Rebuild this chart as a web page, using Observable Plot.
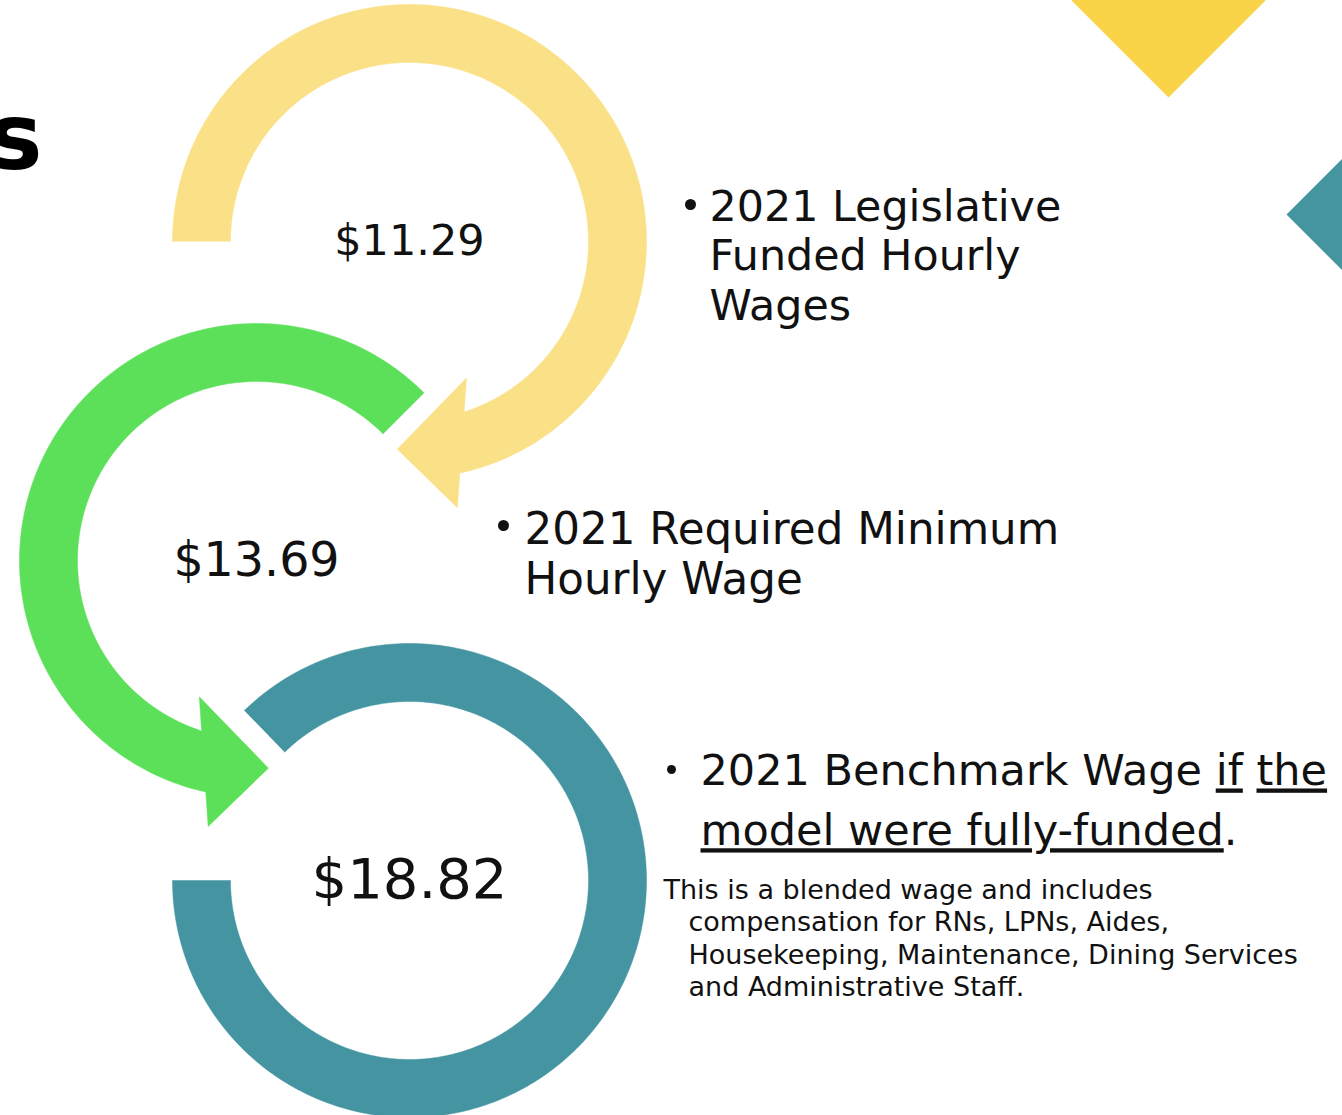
<!DOCTYPE html>
<html>
<head>
<meta charset="utf-8">
<script src="https://cdn.jsdelivr.net/npm/d3@7"></script>
<script src="https://cdn.jsdelivr.net/npm/@observablehq/plot@0.6"></script>
<style>
  html, body { margin: 0; padding: 0; background: #ffffff; }
  svg { display: block; }
</style>
</head>
<body>
<div id="chart"></div>
<script>
// ---------------- DATA ----------------
const wageValues = [11.29, 13.69, 18.82];
const wageLabels = ["$11.29", "$13.69", "$18.82"];
const wageDescriptions = [
  "2021 Legislative\nFunded Hourly\nWages",
  "2021 Required Minimum\nHourly Wage",
  "2021 Benchmark Wage if the\nmodel were fully-funded."
];
const underlinedPhrases = ["if", "the", "model were fully-funded"];
const noteLines = [
  "This is a blended wage and includes",
  "compensation for RNs, LPNs, Aides,",
  "Housekeeping, Maintenance, Dining Services",
  "and Administrative Staff."
];
const ringColors = ["#FAE187", "#5CE059", "#4495A1"];
const accentColors = ["#F9D449", "#4595A1"];
const titleFragment = "s";

// ---------------- LAYOUT ----------------
const W = 1342, H = 1115;
const R_OUT = 237, R_IN = 179;
const FONT = "'DejaVu Sans', sans-serif";
const rings = [
  {cx: 409, cy: 241, start: 180, end: 435.4, dir: 1, arrow: true, labelSize: 43},
  {cx: 256, cy: 560, start: 315, end: 104.7, dir: -1, arrow: true, labelSize: 47.5},
  {cx: 409, cy: 880, start: 225.8, end: 540, dir: 1, arrow: false, labelSize: 56}
];
const descLayout = [
  {x: 709, baseline: 220, lh: 1.16, size: 42.8, bx: 690, by: 204, br: 5.5},
  {x: 524, baseline: 543, lh: 1.16, size: 43.6, bx: 503, by: 525, br: 5.5},
  {x: 700, baseline: 785, lh: 1.39, size: 43, bx: 671, by: 769, br: 4.5}
];
const NOTE = {x0: 663, x1: 688, baseline: 898, size: 27, step: 32.6};

// ---------------- GEOMETRY HELPERS ----------------
const rad = d => d * Math.PI / 180;
function ringPolygon(r) {
  const pt = (a, rr) => [r.cx + rr * Math.cos(rad(a)), r.cy + rr * Math.sin(rad(a))];
  const arc = (a0, a1, rr) => {
    const n = Math.max(2, Math.ceil(Math.abs(a1 - a0) / 1));
    return d3.range(n + 1).map(i => pt(a0 + (a1 - a0) * i / n, rr));
  };
  if (!r.arrow) {
    return [...arc(r.start, r.end, R_OUT), ...arc(r.end, r.start, R_IN)];
  }
  const th = r.end, rm = (R_OUT + R_IN) / 2;
  const M = pt(th, rm);
  const bAng = th + r.dir * 18.6;         // arrow base direction
  const tAng = th + r.dir * 99;           // arrow pointing direction
  const b = [Math.cos(rad(bAng)), Math.sin(rad(bAng))];
  const t = [Math.cos(rad(tAng)), Math.sin(rad(tAng))];
  const hit = rr => {
    const p = [M[0] - r.cx, M[1] - r.cy];
    const pb = p[0] * b[0] + p[1] * b[1];
    const c = p[0] * p[0] + p[1] * p[1] - rr * rr;
    const s = Math.sqrt(Math.max(0, pb * pb - c));
    const u1 = -pb + s, u2 = -pb - s;
    const u = Math.abs(u1) < Math.abs(u2) ? u1 : u2;
    return [M[0] + u * b[0], M[1] + u * b[1]];
  };
  const unwrap = a => a + 360 * Math.round((th - a) / 360);
  const No = hit(R_OUT), Ni = hit(R_IN);
  const aO = unwrap(Math.atan2(No[1] - r.cy, No[0] - r.cx) * 180 / Math.PI);
  const aI = unwrap(Math.atan2(Ni[1] - r.cy, Ni[0] - r.cx) * 180 / Math.PI);
  const H2 = 65, L = 65;
  const outerBarb = [M[0] + b[0] * H2, M[1] + b[1] * H2];
  const innerBarb = [M[0] - b[0] * H2, M[1] - b[1] * H2];
  const tip = [M[0] + t[0] * L, M[1] + t[1] * L];
  return [...arc(r.start, aO, R_OUT), outerBarb, tip, innerBarb, ...arc(aI, r.start, R_IN)];
}
function diamond(cx, cy, h) {
  return [[cx - h, cy], [cx, cy - h], [cx + h, cy], [cx, cy + h], [cx - h, cy]];
}

// ---------------- MARKS ----------------
const ringMarks = rings.map((r, i) =>
  Plot.line(ringPolygon(r), {fill: ringColors[i], stroke: ringColors[i], strokeWidth: 0.5, curve: "linear"})
);
const accentMarks = [
  Plot.line(diamond(1168, 0, 97), {fill: accentColors[0], stroke: "none"}),
  Plot.line(diamond(1342, 214, 56), {fill: accentColors[1], stroke: "none"})
];

const labelRows = wageValues.map((v, i) => ({value: v, label: wageLabels[i], x: rings[i].cx, y: rings[i].cy, size: rings[i].labelSize}));
const descRows = wageDescriptions.map((d, i) => {
  const L = descLayout[i];
  return {text: d, x: L.x, y: L.baseline - 0.71 * L.lh * L.size, lh: L.lh, size: L.size, bx: L.bx, by: L.by, br: L.br};
});
const noteRows = noteLines.map((t, i) => ({text: t, x: i === 0 ? NOTE.x0 : NOTE.x1, y: NOTE.baseline + i * NOTE.step}));

const plot = Plot.plot({
  width: W,
  height: H,
  margin: 0,
  x: {domain: [0, W], range: [0, W], axis: null},
  y: {domain: [0, H], range: [0, H], axis: null},
  r: {type: "identity"},
  style: {background: "#ffffff", fontFamily: FONT},
  marks: [
    ...accentMarks,
    ...ringMarks,
    Plot.text(labelRows, {x: "x", y: "y", text: "label", fontSize: d => d.size, fill: "#111111", textAnchor: "middle", lineAnchor: "middle", fontFamily: FONT}),
    ...descRows.map(d => Plot.text([d], {x: "x", y: "y", text: "text", fontSize: d.size, lineHeight: d.lh, lineAnchor: "top", textAnchor: "start", fill: "#111111", fontFamily: FONT})),
    Plot.dot(descRows, {x: "bx", y: "by", r: "br", fill: "#111111", stroke: "none"}),
    Plot.text(noteRows, {x: "x", y: "y", text: "text", fontSize: NOTE.size, lineAnchor: "bottom", textAnchor: "start", fill: "#111111", fontFamily: FONT}),
    Plot.text([titleFragment], {x: () => 42, y: () => 168, text: d => d, fontSize: 92, fontWeight: 900, lineAnchor: "bottom", textAnchor: "end", fill: "#000000", fontFamily: "'DejaVu Sans', sans-serif"})
  ]
});
document.getElementById("chart").appendChild(plot);

// underline selected phrases in the benchmark description
const esc = s => s.replace(/[.*+?^${}()|[\]\\]/g, "\\$&");
const re = new RegExp("(" + underlinedPhrases.slice().sort((a, b) => b.length - a.length).map(p => "\\b" + esc(p) + "(?=\\W|$)").join("|") + ")", "g");
plot.querySelectorAll("text").forEach(t => {
  if (!t.textContent.includes("Benchmark")) return;
  t.querySelectorAll("tspan").forEach(ts => {
    const line = ts.textContent;
    ts.textContent = "";
    let last = 0, m;
    re.lastIndex = 0;
    while ((m = re.exec(line))) {
      if (m.index > last) ts.appendChild(document.createElementNS("http://www.w3.org/2000/svg", "tspan")).textContent = line.slice(last, m.index);
      const u = ts.appendChild(document.createElementNS("http://www.w3.org/2000/svg", "tspan"));
      u.textContent = m[0];
      u.setAttribute("text-decoration", "underline");
      u.style.textDecoration = "underline";
      last = m.index + m[0].length;
    }
    if (last < line.length) ts.appendChild(document.createElementNS("http://www.w3.org/2000/svg", "tspan")).textContent = line.slice(last);
  });
});
</script>
</body>
</html>
